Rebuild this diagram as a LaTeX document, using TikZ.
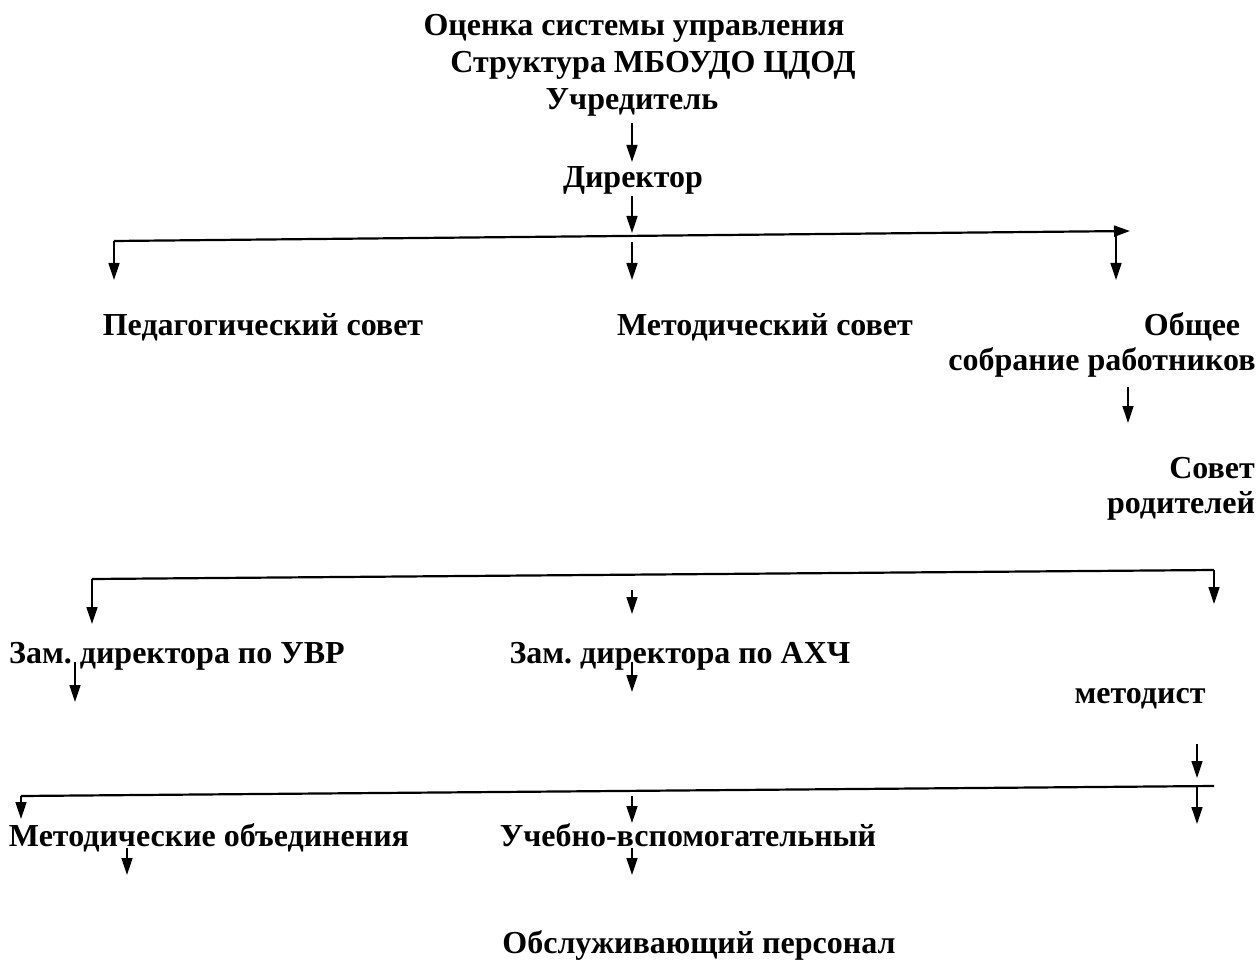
\documentclass[tikz,border=0pt]{standalone}
\usepackage{fontspec}
\setmainfont{Liberation Serif}
\usetikzlibrary{arrows.meta}
\frenchspacing
\begin{document}
\begin{tikzpicture}[x=1pt,y=-1pt]
\tikzstyle{label}=[font=\fontsize{32}{36}\selectfont\bfseries,inner sep=0pt,text height=22pt,text depth=7pt]
\tikzstyle{arr}=[line width=1.4pt,-{Triangle[length=17pt,width=11pt]}]
\tikzstyle{bar}=[line width=2.2pt]
\useasboundingbox (0,0) rectangle (1260,965);

%heading.
\node[label] (title) at (634,28) {Оценка системы управления};
\node[label] (struct) at (653,65) {Структура МБОУДО ЦДОД};
\node[label] (founder) at (632,102) {Учредитель};
\node[label] (director) at (633,180) {Директор};
\draw[arr] (632,123) coordinate (fA) -- (632,162) coordinate (fB);
\draw[arr] (632,196) coordinate (dA) -- (632,233) coordinate (dB);

%first bar.
\coordinate (barL) at (114,241);
\coordinate (barR) at (1116,232);
\coordinate (barEnd) at (1130,231);
\draw[bar,-{Triangle[length=16pt,width=11pt]}] (barL) -- (barEnd);
\draw[arr] (barL) -- (114,280);
\draw[arr] (632,242) -- (632,280);
\draw[arr] (barR) -- (1116,280);

\node[label] (pedSovet) at (263,328) {Педагогический совет};
\node[label] (metSovet) at (765,328) {Методический совет};
\node[label] (obshee) at (1192,328) {Общее};
\node[label] (sobranie) at (1102,363) {собрание работников};
\draw[arr] (1128,387) coordinate (sA) -- (1128,423) coordinate (sB);
\node[label] (sovet) at (1212,471) {Совет};
\node[label] (roditeli) at (1181,506) {родителей};

%second bar.
\coordinate (bar2L) at (92,579);
\coordinate (bar2R) at (1214,570);
\draw[bar] (bar2L) -- (bar2R);
\draw[arr] (bar2L) -- (92,624);
\draw[arr] (bar2R) -- (1214,604);
\draw[arr] (632,590) coordinate (mA) -- (632,614) coordinate (mB);

\node[label] (zamUVR) at (177,656) {Зам. директора по УВР};
\node[label] (zamAHCh) at (680,656) {Зам. директора по АХЧ};
\draw[arr] (75,662) coordinate (uA) -- (75,702) coordinate (uB);
\draw[arr] (632,662) coordinate (aA) -- (632,692) coordinate (aB);
\node[label] (metodist) at (1140,696) {методист};
\draw[arr] (1197,744) coordinate (tA) -- (1197,778) coordinate (tB);

%third bar.
\coordinate (bar3L) at (21,796);
\coordinate (bar3R) at (1214,786);
\draw[bar] (bar3L) -- (bar3R);
\draw[arr] (bar3L) -- (21,819);
\draw[arr] (632,796) coordinate (vA) -- (632,823) coordinate (vB);
\draw[arr] (1197,786) -- (1197,824);

\node[label] (metObed) at (209,839) {Методические объединения};
\node[label] (uchVsp) at (688,839) {Учебно-вспомогательный};
\draw[arr] (127,848) coordinate (oA) -- (127,875) coordinate (oB);
\draw[arr] (632,848) coordinate (wA) -- (632,875) coordinate (wB);

\node[label] (obsl) at (699,946) {Обслуживающий персонал};

\end{tikzpicture}
\end{document}
